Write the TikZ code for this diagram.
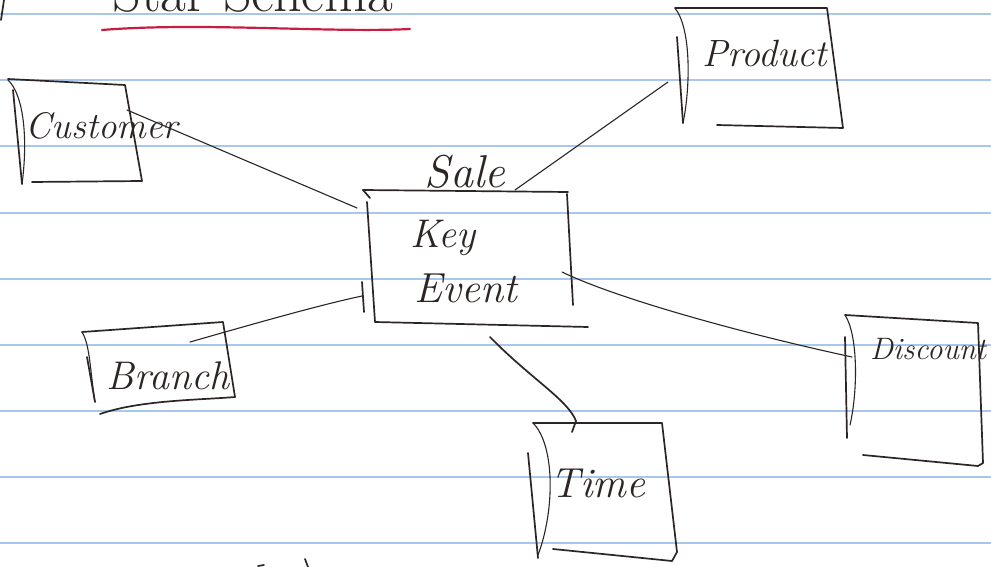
\documentclass[tikz,border=0pt]{standalone}
\usepackage{fontspec}
\definecolor{inkc}{HTML}{2B2624}
\definecolor{rulec}{HTML}{A9C7EA}
\definecolor{redc}{HTML}{C61E3F}
\begin{document}
\begin{tikzpicture}[x=1pt,y=-1pt,
  ink/.style={draw=inkc, line width=1.7pt, line cap=round, line join=round},
  inkthin/.style={draw=inkc, line width=1.1pt, line cap=round, line join=round},
  paperrule/.style={draw=rulec, line width=1.6pt},
  redline/.style={draw=redc, line width=2.2pt, line cap=round},
  hand/.style={text=inkc, inner sep=0pt, font=\itshape}]
\fill[white] (0,0) rectangle (991,567);
\useasboundingbox (0,0) rectangle (991,567);
\clip (0,0) rectangle (991,567);
% paper rules
\foreach \yy in {14,80,146,213,279,345,411,477,543} \draw[paperrule] (0,\yy) -- (991,\yy);
% title (cut off at top, as in the sketch)
\node[text=inkc, inner sep=0pt, anchor=base, font=\fontsize{56}{56}\selectfont] (title) at (253,12) {Star Schema};
\draw[redline] (102,30) .. controls (200,22) and (330,33) .. (410,29);
\draw[ink] (4,0) -- (1,20);
% Customer
\draw[ink] (8,79) -- (125,85) -- (142,181) -- (32,182);
\draw[ink] (13,90) -- (22,184);
\draw[inkthin] (8,80) .. controls (24,95) and (28,140) .. (22,184);
\node[hand, font=\itshape\fontsize{37}{37}\selectfont] (customer) at (102,126) {Customer};
% Sale / fact
\draw[ink] (363,190) -- (568,192);
\draw[ink] (363,190) -- (370,198);
\draw[ink] (567,194) -- (573,305);
\draw[ink] (367,202) -- (375,322) -- (588,327);
\draw[ink] (362,282) -- (364,312);
\node[hand, font=\itshape\fontsize{46}{46}\selectfont] (sale) at (465,172) {Sale};
\node[hand, font=\itshape\fontsize{40}{40}\selectfont] (key) at (443,238) {Key};
\node[hand, font=\itshape\fontsize{42}{42}\selectfont] (event) at (466,288) {Event};
% Product
\draw[ink] (675,8) -- (827,8) -- (843,128) -- (717,125);
\draw[ink] (677,37) -- (683,123);
\draw[inkthin] (675,8) .. controls (692,30) and (690,90) .. (683,123);
\node[hand, font=\itshape\fontsize{38}{38}\selectfont] (product) at (765,54) {Product};
% Branch
\draw[ink] (82,332) -- (223,322) -- (235,397);
\draw[ink] (100,414) .. controls (140,400) and (200,400) .. (235,397);
\draw[ink] (87,357) -- (95,402);
\draw[inkthin] (82,332) .. controls (90,345) and (90,370) .. (95,402);
\node[hand, font=\itshape\fontsize{40}{40}\selectfont] (branch) at (168,376) {Branch};
% Time
\draw[ink] (533,423) -- (662,423) -- (677,552) -- (672,561) -- (553,549);
\draw[ink] (528,453) -- (538,558);
\draw[inkthin] (533,423) .. controls (555,445) and (555,510) .. (538,555);
\node[hand, font=\itshape\fontsize{42}{42}\selectfont] (time) at (598,483) {Time};
% Discount
\draw[ink] (845,315) -- (978,323) -- (983,463) -- (978,466) -- (863,455);
\draw[ink] (845,337) -- (847,438);
\draw[inkthin] (845,315) .. controls (858,335) and (858,390) .. (850,425);
\node[hand, font=\itshape\fontsize{31}{31}\selectfont] (discount) at (928,349) {Discount};
% connector end points
\coordinate (custE) at (127,110);
\coordinate (saleNW) at (357,208);
\coordinate (saleN) at (515,190);
\coordinate (prodW) at (668,82);
\coordinate (branchE) at (190,342);
\coordinate (saleW) at (362,296);
\coordinate (saleS) at (490,337);
\coordinate (timeN) at (576,421);
\coordinate (timeHook) at (572,432);
\coordinate (saleE) at (562,272);
\coordinate (discW) at (852,357);
% connectors
\draw[inkthin] (custE) -- (saleNW);
\draw[inkthin] (saleN) -- (prodW);
\draw[inkthin] (branchE) .. controls (260,322) and (320,305) .. (saleW);
\draw[ink] (saleS) .. controls (530,378) and (568,400) .. (timeN) -- (timeHook);
\draw[inkthin] (saleE) .. controls (620,300) and (750,335) .. (discW);
% stray strokes of cut-off writing
\draw[ink] (305,559) -- (308,567);
\draw[ink] (258,566) -- (264,565);
\end{tikzpicture}
\end{document}
